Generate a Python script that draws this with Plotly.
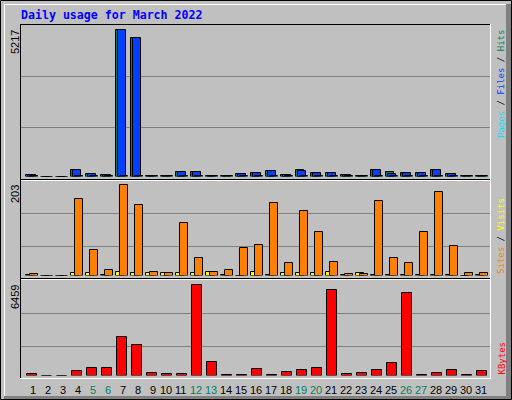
import plotly.graph_objects as go

# ---------------- data ----------------
days = list(range(1, 32))
weekend_days = [5, 6, 12, 13, 19, 20, 26, 27]

hits = [71, 0, 0, 248, 106, 71, 5217, 4933, 15, 15, 177, 177, 15, 15, 106, 142,
        213, 71, 248, 142, 142, 71, 15, 248, 177, 142, 142, 248, 106, 15, 15]
files = [40, 0, 0, 245, 85, 40, 5190, 4920, 10, 10, 175, 175, 10, 10, 104, 140,
         210, 40, 190, 140, 140, 40, 10, 245, 106, 140, 140, 245, 85, 10, 10]
pages = [10, 0, 0, 20, 10, 8, 25, 20, 5, 5, 15, 15, 5, 5, 10, 12,
         15, 8, 15, 12, 12, 8, 4, 15, 12, 10, 10, 15, 10, 4, 4]
visits = [1, 0, 0, 5, 5, 1, 7, 5, 5, 5, 5, 5, 7, 1, 0, 7,
          1, 5, 5, 5, 7, 1, 5, 1, 1, 1, 1, 1, 1, 0, 1]
sites = [4, 0, 0, 170, 56, 13, 203, 158, 7, 5, 118, 40, 7, 13, 62, 67,
         161, 29, 145, 96, 31, 3, 3, 167, 38, 29, 96, 187, 65, 5, 5]
kbytes = [142, 0, 0, 355, 568, 568, 2768, 2200, 213, 142, 142, 6459, 994, 20, 20, 497,
          20, 284, 426, 568, 6104, 142, 213, 426, 923, 5891, 20, 213, 426, 20, 355]

title_text = "Daily usage for March 2022"

# ---------------- styling ----------------
W, H = 512, 400
BG = "#C0C0C0"
DK = "#808080"
C_HITS, C_FILES, C_PAGES = "#00805C", "#0040FF", "#00E0FF"
C_VISITS, C_SITES, C_KB = "#FFFF00", "#FF8000", "#FF0000"
C_WKND = "#00805C"


def PX(x):
    return x / W


def PY(y):
    return 1 - y / H


SLOT = 15.0
X0 = 25.0  # pixel of day 1 slot start
LEFT, RIGHT = 20.0, 491.0
xr = [(LEFT - X0) / SLOT + 1, (RIGHT - X0) / SLOT + 1]

# panel geometry: (base pixel, top-of-max pixel, domain top pixel)
panels = [(176.5, 29.5, 25.0), (275.5, 184.5, 180.0), (375.5, 284.5, 280.0)]
maxima = [max(hits), max(sites), max(kbytes)]

fig = go.Figure()

lw = dict(color="black", width=1)


def bar(y, color, off_px, w_px, xa, ya, name):
    return go.Bar(x=days, y=y, marker=dict(color=color, line=lw),
                  offset=off_px / SLOT, width=w_px / SLOT,
                  xaxis=xa, yaxis=ya, name=name, showlegend=False,
                  hoverinfo="skip")


fig.add_trace(bar(hits, C_HITS, 0.5, 8, "x", "y", "Hits"))
fig.add_trace(bar(files, C_FILES, 2.5, 8, "x", "y", "Files"))
fig.add_trace(bar(pages, C_PAGES, 4.5, 8, "x", "y", "Pages"))
fig.add_trace(bar(visits, C_VISITS, 0.5, 8, "x2", "y2", "Visits"))
fig.add_trace(bar(sites, C_SITES, 4.5, 8, "x2", "y2", "Sites"))
fig.add_trace(bar(kbytes, C_KB, 1.5, 10, "x3", "y3", "KBytes"))

layout_axes = {}
for i, ((base, top, dtop), mx) in enumerate(zip(panels, maxima)):
    sfx = "" if i == 0 else str(i + 1)
    layout_axes["xaxis" + sfx] = dict(domain=[PX(LEFT), PX(RIGHT)], range=xr,
                                      visible=False, fixedrange=True,
                                      anchor="y" + sfx)
    layout_axes["yaxis" + sfx] = dict(domain=[PY(base), PY(dtop)],
                                      range=[0, mx * (base - dtop) / (base - top)],
                                      visible=False, fixedrange=True,
                                      anchor="x" + sfx)

shapes = []


def hline(y, x0, x1, color, layer="above"):
    shapes.append(dict(type="line", xref="paper", yref="paper",
                       x0=PX(x0), x1=PX(x1), y0=PY(y + 0.5), y1=PY(y + 0.5),
                       line=dict(color=color, width=1), layer=layer))


def vline(x, y0, y1, color, layer="above"):
    shapes.append(dict(type="line", xref="paper", yref="paper",
                       x0=PX(x + 0.5), x1=PX(x + 0.5), y0=PY(y0), y1=PY(y1),
                       line=dict(color=color, width=1), layer=layer))


def rect(x0, y0, x1, y1, color):
    shapes.append(dict(type="rect", xref="paper", yref="paper",
                       x0=PX(x0), x1=PX(x1), y0=PY(y0), y1=PY(y1),
                       fillcolor=color, line=dict(width=0), layer="below"))


# outer frame
rect(506, 4, 511, 399, DK)
rect(4, 396, 511, 399, DK)
hline(4, 4, 506, "white")
vline(4, 4, 396, "white")
shapes.append(dict(type="rect", xref="paper", yref="paper",
                   x0=PX(0.5), x1=PX(511.5), y0=PY(0.5), y1=PY(399.5),
                   line=dict(color="black", width=1), layer="above"))

# gridlines
for gy in [76, 127, 213, 246, 313, 346]:
    hline(gy, 21, 490, DK, layer="below")

# panel frames
hline(24, 20, 491, "black")
vline(20, 24, 379, "black")
vline(490, 24, 379, "white")
hline(378, 20, 491, "white")
hline(179, 21, 490, "black")
hline(180, 21, 490, "white")
hline(278, 21, 490, "black")
hline(279, 21, 490, "white")

annotations = []
FONT_NUM = "Liberation Sans"
FONT_MONO = "DejaVu Sans Mono"

# title
annotations.append(dict(text=title_text, xref="paper", yref="paper",
                        x=PX(19), y=PY(15), xanchor="left", yanchor="middle",
                        showarrow=False,
                        font=dict(family=FONT_MONO, size=11.6, color="#0000FF",
                                  weight="bold")))

# max labels on left
for (base, top, dtop), mx in zip(panels, maxima):
    annotations.append(dict(text=str(mx), xref="paper", yref="paper",
                            x=PX(15), y=PY(top - 1.5), xanchor="center",
                            yanchor="top", textangle=-90, showarrow=False,
                            font=dict(family=FONT_NUM, size=11, color="black")))

# day labels
for d in days:
    col = C_WKND if d in weekend_days else "black"
    shift = 0.5 if d < 10 else 0.5 - 2 / SLOT
    annotations.append(dict(text=str(d), xref="x3", yref="paper",
                            x=d + shift, y=PY(389.5), xanchor="center",
                            yanchor="middle", showarrow=False,
                            font=dict(family=FONT_NUM, size=11, color=col)))

# right labels
lab1 = (f'<span style="color:{C_PAGES}">Pages</span> / '
        f'<span style="color:{C_FILES}">Files</span> / '
        f'<span style="color:{C_HITS}">Hits</span>')
lab2 = (f'<span style="color:{C_SITES}">Sites</span> / '
        f'<span style="color:{C_VISITS}">Visits</span>')
lab3 = f'<span style="color:{C_KB}">KBytes</span>'
annotations.append(dict(text=lab1, xref="paper", yref="paper", x=PX(501),
                        y=PY(28), xanchor="center", yanchor="top",
                        textangle=-90, showarrow=False,
                        font=dict(family=FONT_MONO, size=9, color="black")))
annotations.append(dict(text=lab2, xref="paper", yref="paper", x=PX(501),
                        y=PY(276), xanchor="center", yanchor="bottom",
                        textangle=-90, showarrow=False,
                        font=dict(family=FONT_MONO, size=9, color="black")))
annotations.append(dict(text=lab3, xref="paper", yref="paper", x=PX(501),
                        y=PY(377), xanchor="center", yanchor="bottom",
                        textangle=-90, showarrow=False,
                        font=dict(family=FONT_MONO, size=9, color="black")))

fig.update_layout(width=W, height=H, autosize=False,
                  margin=dict(l=0, r=0, t=0, b=0, pad=0),
                  paper_bgcolor=BG, plot_bgcolor="rgba(0,0,0,0)",
                  barmode="overlay", bargap=0, showlegend=False,
                  shapes=shapes, annotations=annotations, **layout_axes)

fig.write_html("out.html", config={"displayModeBar": False},
               post_script="document.body.style.margin='0';"
                           "document.body.style.padding='0';"
                           "document.body.style.overflow='hidden';")
